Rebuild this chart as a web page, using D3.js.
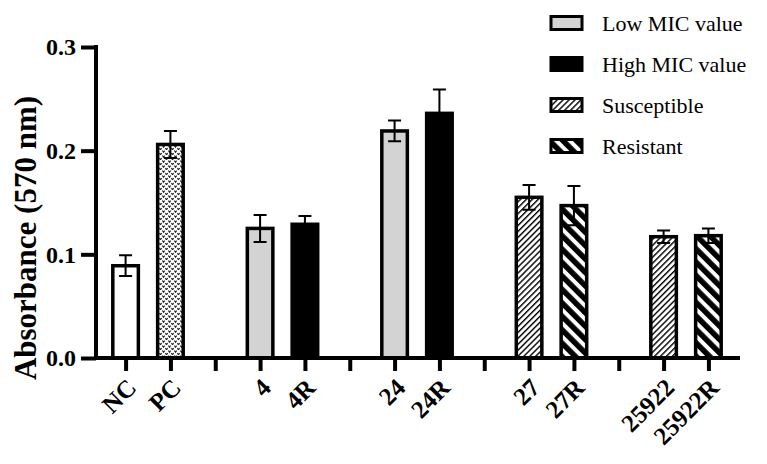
<!DOCTYPE html>
<html>
<head>
<meta charset="utf-8">
<script src="https://d3js.org/d3.v7.min.js"></script>
<style>
body { margin: 0; background: #fff; }
text { font-family: "Liberation Serif", "Times New Roman", serif; }
</style>
</head>
<body>
<svg class="chart"></svg>
<script>
// slots along x (gaps are empty slots)
var slots = ["NC", "PC", "g1", "4", "4R", "g2", "24", "24R", "g3", "27", "27R", "g4", "25922", "25922R"]
var barNames = ["NC", "PC", "4", "4R", "24", "24R", "27", "27R", "25922", "25922R"]
var barMeans = [0.089, 0.206, 0.125, 0.129, 0.219, 0.236, 0.155, 0.147, 0.117, 0.118]
var barErrs = [0.010, 0.013, 0.013, 0.008, 0.010, 0.023, 0.012, 0.019, 0.006, 0.007]
var barKinds = ["nc", "pc", "low", "high", "low", "high", "sus", "res", "sus", "res"]
var yTicks = [0.0, 0.1, 0.2, 0.3]
var legendKinds = ["low", "high", "sus", "res"]
var legendLabels = ["Low MIC value", "High MIC value", "Susceptible", "Resistant"]

var w = 767, h = 464
var svg = d3.select('.chart').attr('width', w).attr('height', h)

var defs = svg.append('defs')
// dotted pattern for PC
var pc = defs.append('pattern').attr('id', 'pcPat').attr('patternUnits', 'userSpaceOnUse')
    .attr('width', 6).attr('height', 5)
pc.append('rect').attr('width', 6).attr('height', 5).attr('fill', '#fff')
pc.append('path').attr('d', 'M0.4,0.6 L1.5,2.3 L2.6,0.6 M3.4,3.1 L4.5,4.8 L5.6,3.1')
    .attr('stroke', '#222').attr('stroke-width', 1.1).attr('fill', 'none')
// thin hatch, "/" direction
var sus = defs.append('pattern').attr('id', 'susPat').attr('patternUnits', 'userSpaceOnUse')
    .attr('width', 4.2).attr('height', 10).attr('patternTransform', 'rotate(45)')
sus.append('rect').attr('width', 4.2).attr('height', 10).attr('fill', '#fff')
sus.append('rect').attr('width', 1.4).attr('height', 10).attr('fill', '#000')
// thick hatch, "\" direction
var res = defs.append('pattern').attr('id', 'resPat').attr('patternUnits', 'userSpaceOnUse')
    .attr('width', 9.5).attr('height', 10).attr('patternTransform', 'rotate(-45)')
res.append('rect').attr('width', 9.5).attr('height', 10).attr('fill', '#fff')
res.append('rect').attr('width', 5.5).attr('height', 10).attr('fill', '#000')

var fills = { nc: '#fff', pc: 'url(#pcPat)', low: '#d3d3d3', high: '#000', sus: 'url(#susPat)', res: 'url(#resPat)' }

var xScale = d3.scalePoint().domain(slots).range([96, 738]).padding(0.66)
var yScale = d3.scaleLinear().domain([0, 0.3]).range([358, 47])
var step = xScale.step()
var bw = step * 0.57

var bars = barNames.map(function (n, i) {
    return { name: n, mean: barMeans[i], err: barErrs[i], kind: barKinds[i] }
})

// bars
svg.append('g').selectAll('rect').data(bars).enter().append('rect')
    .attr('x', function (d) { return xScale(d.name) - bw / 2 })
    .attr('y', function (d) { return yScale(d.mean) })
    .attr('width', bw)
    .attr('height', function (d) { return yScale(0) - yScale(d.mean) })
    .attr('fill', function (d) { return fills[d.kind] })
    .attr('stroke', '#000').attr('stroke-width', 3.5)

// error bars
var eb = svg.append('g').attr('stroke', '#000').attr('stroke-width', 2).attr('fill', 'none')
eb.selectAll('path').data(bars).enter().append('path')
    .attr('d', function (d) {
        var x = xScale(d.name), t = yScale(d.mean + d.err), b = yScale(d.mean - d.err)
        return 'M' + (x - 6.5) + ',' + t + 'H' + (x + 6.5) + 'M' + x + ',' + t + 'V' + b +
            'M' + (x - 6.5) + ',' + b + 'H' + (x + 6.5)
    })

// y axis
var yAxis = d3.axisLeft(yScale).tickValues(yTicks).tickFormat(d3.format('.1f')).tickSize(15).tickPadding(5)
var gy = svg.append('g').attr('transform', 'translate(96,0)').call(yAxis)
gy.select('.domain').attr('d', 'M0,' + (yScale(0.3) - 2) + 'V' + (yScale(0) + 2)).attr('stroke-width', 4)
gy.selectAll('.tick line').attr('stroke-width', 4)
gy.selectAll('.tick text').attr('font-size', 24).attr('font-weight', 'bold')
    .style('font-family', '"Liberation Serif", "Times New Roman", serif').attr('fill', '#000')

// x axis
var xAxis = d3.axisBottom(xScale).tickSize(13).tickFormat('')
var gx = svg.append('g').attr('transform', 'translate(0,358)').call(xAxis)
gx.select('.domain').attr('d', 'M94,0H740').attr('stroke-width', 4)
gx.selectAll('.tick line').attr('stroke-width', 4)

svg.append('g').selectAll('text').data(barNames).enter().append('text')
    .attr('transform', function (d) { return 'translate(' + (xScale(d) + 6) + ',383) rotate(-45)' })
    .attr('text-anchor', 'end').attr('dy', '0.35em')
    .attr('font-size', 25).attr('font-weight', 'bold')
    .text(function (d) { return d })

// y label
svg.append('text').attr('transform', 'translate(36,238) rotate(-90)')
    .attr('text-anchor', 'middle').attr('font-size', 31).attr('font-weight', 'bold')
    .text('Absorbance (570 nm)')

// legend
var lg = svg.append('g').selectAll('g').data(legendKinds).enter().append('g')
    .attr('transform', function (d, i) { return 'translate(551,' + (23 + i * 41) + ')' })
lg.append('rect').attr('x', 0).attr('y', -6.5).attr('width', 31).attr('height', 13)
    .attr('fill', function (d) { return fills[d] }).attr('stroke', '#000').attr('stroke-width', 3)
lg.append('text').attr('x', 51).attr('y', 0).attr('dy', '0.35em').attr('font-size', 22)
    .text(function (d, i) { return legendLabels[i] })
</script>
</body>
</html>
